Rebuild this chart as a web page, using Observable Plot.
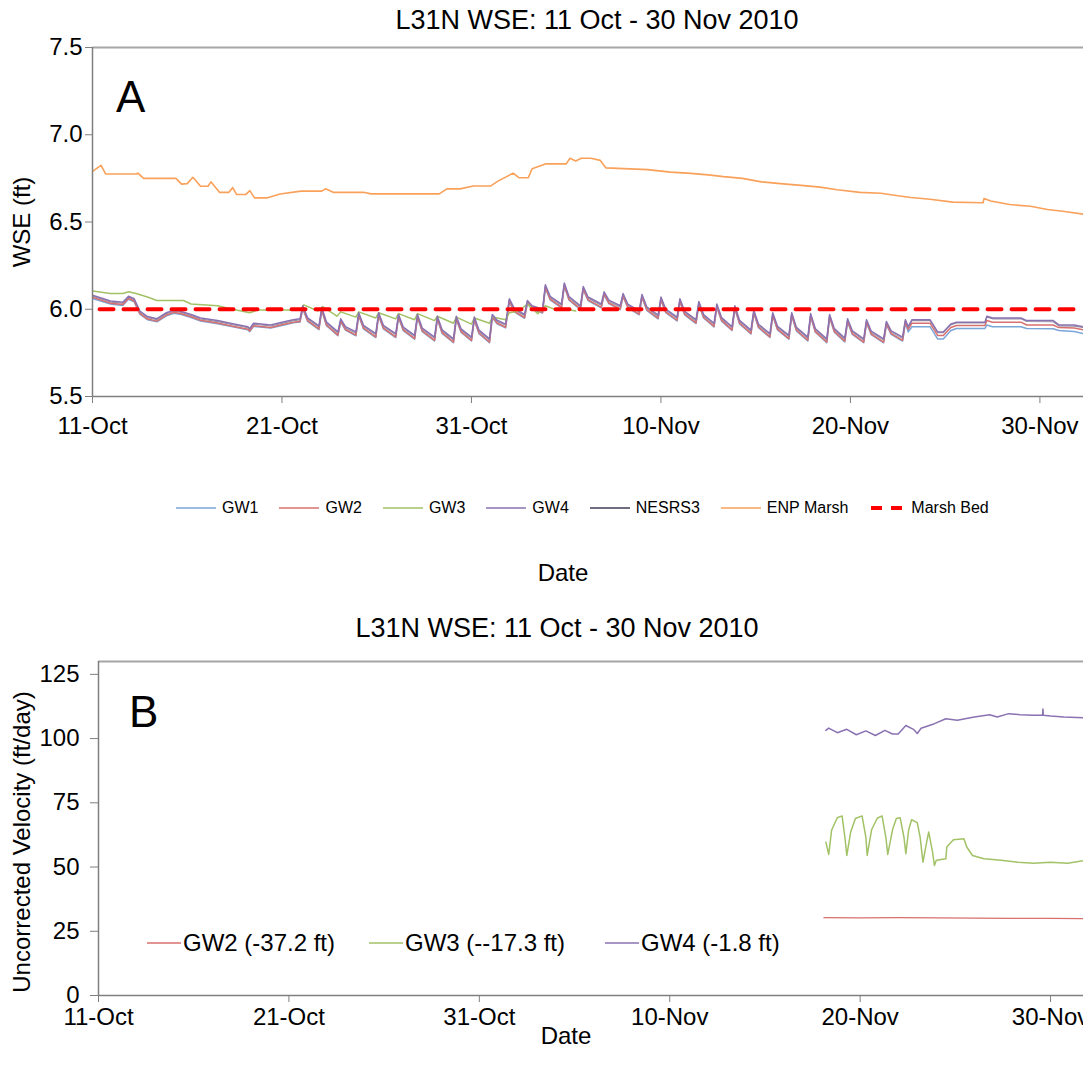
<!DOCTYPE html>
<html><head><meta charset="utf-8">
<script src="https://cdn.jsdelivr.net/npm/d3@7"></script>
<script src="https://cdn.jsdelivr.net/npm/@observablehq/plot@0.6"></script>
<style>
body{margin:0;background:#fff;font-family:"Liberation Sans",Arial,sans-serif;color:#000;}
#wrap{position:relative;width:1083px;height:1068px;overflow:hidden;background:#fff;}
.abs{position:absolute;white-space:nowrap;line-height:1;}
.chart{position:absolute;left:0;}
.sw{display:inline-block;vertical-align:middle;}
</style></head><body><div id="wrap"></div>
<script>
// ---------- DATA (days since 11-Oct-2010 00:00) ----------
const titleText = "L31N WSE: 11 Oct - 30 Nov 2010";
const tickDays = [0, 10, 20, 30, 40, 50];
const yTicksA = [5.5, 6.0, 6.5, 7.0, 7.5];
const yTicksB = [0, 25, 50, 75, 100, 125];

const gwDays = [
  0, 0.95, 1.6, 1.9, 2.2, 2.5, 2.9, 3.4, 3.9, 4.3, 4.6, 5.2, 5.7, 6.6, 7.4, 8.2, 8.3, 8.5, 9.4, 10.0, 10.6, 10.95,
  11.1, 11.95, 12.1, 12.95, 13.1, 13.9, 14.05, 14.95, 15.1, 16.0, 16.15, 17.0, 17.15, 18.05, 18.2, 19.05, 19.2, 20.0, 20.15, 20.95, 21.1,
  21.8, 22.0, 22.8, 22.95, 23.75, 23.9, 24.75, 24.9, 25.75, 25.9, 26.85, 27.0, 27.85, 28.0, 28.85, 29.0, 29.85, 30.0, 30.85, 31.0,
  31.85, 32.0, 32.8, 32.95, 33.75, 33.9, 34.75, 34.9, 35.75, 35.9, 36.75, 36.9, 37.75, 37.9, 38.75, 38.9, 39.7, 39.85, 40.7, 40.85,
  41.75, 41.9, 42.75, 42.9,
  43.05, 43.25, 44.2, 44.6, 44.9, 45.3, 45.6, 47.1, 47.2, 47.5, 49.0, 49.3, 50.7, 51.0, 51.8, 52.5
];
const gw4 = [
  6.080, 6.047, 6.040, 6.075, 6.060, 5.990, 5.958, 5.946, 5.980, 5.995, 5.990, 5.970, 5.950, 5.935, 5.917, 5.900, 5.890, 5.920, 5.910, 5.925, 5.940, 5.945,
  6.020, 5.905, 6.010, 5.870, 5.945, 5.870, 5.980, 5.860, 5.980, 5.860, 5.970, 5.850, 5.970, 5.840, 5.960, 5.830, 5.960, 5.840, 5.955, 5.830, 5.970,
  5.915, 6.060, 5.970, 6.050, 6.000, 6.140, 6.030, 6.150, 6.020, 6.130, 6.030, 6.100, 6.020, 6.090, 5.990, 6.085, 5.967, 6.070, 5.955, 6.060,
  5.940, 6.045, 5.920, 6.030, 5.900, 6.020, 5.880, 5.995, 5.860, 5.980, 5.850, 5.980, 5.840, 5.975, 5.830, 5.970, 5.835, 5.945, 5.830, 5.940,
  5.830, 5.930, 5.840, 5.940,
  5.900, 5.940, 5.940, 5.870, 5.870, 5.915, 5.926, 5.926, 5.960, 5.950, 5.950, 5.935, 5.935, 5.910, 5.910, 5.895
];
const gw2 = [
  6.068, 6.035, 6.027, 6.062, 6.047, 5.976, 5.944, 5.932, 5.967, 5.982, 5.977, 5.957, 5.937, 5.921, 5.903, 5.886, 5.876, 5.905, 5.896, 5.911, 5.926, 5.930,
  6.008, 5.887, 5.998, 5.852, 5.933, 5.852, 5.968, 5.842, 5.968, 5.842, 5.958, 5.832, 5.958, 5.822, 5.948, 5.812, 5.948, 5.822, 5.943, 5.812, 5.958,
  5.897, 6.048, 5.952, 6.038, 5.982, 6.128, 6.012, 6.138, 6.002, 6.118, 6.012, 6.088, 6.002, 6.078, 5.972, 6.073, 5.949, 6.058, 5.937, 6.048,
  5.922, 6.033, 5.902, 6.018, 5.882, 6.008, 5.862, 5.983, 5.842, 5.968, 5.832, 5.968, 5.822, 5.963, 5.812, 5.958, 5.817, 5.933, 5.812, 5.928,
  5.812, 5.918, 5.822, 5.928,
  5.885, 5.920, 5.920, 5.850, 5.850, 5.895, 5.907, 5.907, 5.935, 5.926, 5.926, 5.910, 5.910, 5.895, 5.893, 5.878
];
const gw1 = [
  6.062, 6.030, 6.022, 6.057, 6.042, 5.972, 5.940, 5.928, 5.962, 5.977, 5.972, 5.952, 5.932, 5.917, 5.899, 5.882, 5.872, 5.902, 5.892, 5.907, 5.922, 5.927,
  6.002, 5.883, 5.992, 5.848, 5.927, 5.848, 5.962, 5.838, 5.962, 5.838, 5.952, 5.828, 5.952, 5.818, 5.942, 5.808, 5.942, 5.818, 5.937, 5.808, 5.952,
  5.893, 6.042, 5.948, 6.032, 5.978, 6.122, 6.008, 6.132, 5.998, 6.112, 6.008, 6.082, 5.998, 6.072, 5.968, 6.067, 5.945, 6.052, 5.933, 6.042,
  5.918, 6.027, 5.898, 6.012, 5.878, 6.002, 5.858, 5.977, 5.838, 5.962, 5.828, 5.962, 5.818, 5.957, 5.808, 5.952, 5.813, 5.927, 5.808, 5.922,
  5.808, 5.912, 5.818, 5.922,
  5.870, 5.900, 5.900, 5.830, 5.830, 5.878, 5.890, 5.890, 5.910, 5.900, 5.900, 5.890, 5.888, 5.878, 5.872, 5.855
];
const nesrs3 = [
  6.074, 6.041, 6.034, 6.069, 6.054, 5.984, 5.952, 5.940, 5.974, 5.989, 5.984, 5.964, 5.944, 5.929, 5.911, 5.894, 5.884, 5.914, 5.904, 5.919, 5.934, 5.939,
  6.013, 5.898, 6.003, 5.863, 5.938, 5.863, 5.973, 5.853, 5.973, 5.853, 5.963, 5.843, 5.963, 5.833, 5.953, 5.823, 5.953, 5.833, 5.948, 5.823, 5.963,
  5.908, 6.053, 5.963, 6.043, 5.993, 6.133, 6.023, 6.143, 6.013, 6.123, 6.023, 6.093, 6.013, 6.083, 5.983, 6.078, 5.960, 6.063, 5.948, 6.053,
  5.933, 6.038, 5.913, 6.023, 5.893, 6.013, 5.873, 5.988, 5.853, 5.973, 5.843, 5.973, 5.833, 5.968, 5.823, 5.963, 5.828, 5.938, 5.823, 5.933,
  5.823, 5.923, 5.833, 5.933,
  5.895, 5.935, 5.935, 5.865, 5.865, 5.910, 5.921, 5.921, 5.955, 5.945, 5.945, 5.930, 5.928, 5.905, 5.903, 5.893
];
// readings on the fast-decay part of each pumping cycle (shortly after each peak)
const gwMidDays = [11.35, 12.35, 13.35, 14.3, 15.35, 16.4, 17.4, 18.45, 19.45, 20.4, 21.35, 22.25, 23.2, 24.15, 25.15, 26.15, 27.25, 28.25, 29.25, 30.25, 31.25, 32.25, 33.2, 34.15, 35.15, 36.15, 37.15, 38.15, 39.15, 40.1, 41.1, 42.15];
const gw4Mid = [5.951, 5.926, 5.900, 5.908, 5.908, 5.898, 5.892, 5.882, 5.888, 5.880, 5.937, 6.006, 6.020, 6.074, 6.072, 6.070, 6.052, 6.030, 6.014, 6.001, 5.988, 5.970, 5.952, 5.936, 5.914, 5.902, 5.896, 5.888, 5.889, 5.876, 5.874, 5.876];
const gw2Mid = [5.935, 5.910, 5.884, 5.892, 5.892, 5.882, 5.876, 5.866, 5.872, 5.864, 5.921, 5.990, 6.004, 6.058, 6.056, 6.054, 6.036, 6.014, 5.998, 5.985, 5.972, 5.954, 5.936, 5.920, 5.898, 5.886, 5.880, 5.872, 5.873, 5.860, 5.858, 5.860];
const gw1Mid = [5.931, 5.906, 5.880, 5.888, 5.888, 5.878, 5.872, 5.862, 5.868, 5.860, 5.917, 5.986, 6.000, 6.054, 6.052, 6.050, 6.032, 6.010, 5.994, 5.981, 5.968, 5.950, 5.932, 5.916, 5.894, 5.882, 5.876, 5.868, 5.869, 5.856, 5.854, 5.856];
const nesrs3Mid = [5.944, 5.919, 5.893, 5.901, 5.901, 5.891, 5.885, 5.875, 5.881, 5.873, 5.930, 5.999, 6.013, 6.067, 6.065, 6.063, 6.045, 6.023, 6.007, 5.994, 5.981, 5.963, 5.945, 5.929, 5.907, 5.895, 5.889, 5.881, 5.882, 5.869, 5.867, 5.869];

const gw3Days = [0, 0.95, 1.6, 1.9, 2.3, 2.9, 3.4, 4.8, 5.2, 6.6, 7.4, 8.3, 8.7, 10.5, 11.0, 11.15, 11.9, 12.15, 12.9, 13.1, 13.9, 14.05, 14.95, 15.1, 16.0, 16.15, 17.0, 17.15, 18.05, 18.2, 19.05, 19.2, 20.0, 20.15, 20.95, 21.1, 21.8, 22.0, 22.5, 22.95, 23.5, 23.9, 24.5, 25.0, 25.5];
const gw3 = [6.105, 6.09, 6.09, 6.10, 6.09, 6.07, 6.05, 6.05, 6.03, 6.02, 6.0, 5.98, 5.995, 5.995, 6.0, 6.025, 5.99, 6.015, 5.96, 5.985, 5.955, 5.985, 5.95, 5.98, 5.945, 5.975, 5.94, 5.975, 5.935, 5.96, 5.92, 5.955, 5.915, 5.95, 5.92, 5.955, 5.94, 5.98, 5.99, 6.03, 5.975, 6.02, 5.995, 6.0, 5.99];
const enpDays = [0, 0.45, 0.7, 2.3, 2.4, 2.7, 4.4, 4.7, 5.0, 5.3, 5.7, 6.1, 6.25, 6.7, 7.2, 7.4, 7.6, 8.1, 8.3, 8.55, 9.2, 9.9, 11.0, 12.1, 12.3, 12.7, 14.3, 14.7, 18.3, 18.7, 19.4, 20.1, 21.0, 21.4, 22.2, 22.5, 23.0, 23.2, 23.9, 25.0, 25.2, 25.5, 25.8, 26.3, 26.8, 27.1, 29.3, 30.5, 31.4, 32.5, 33.3, 34.3, 35.3, 36.3, 37.4, 38.4, 39.3, 40.5, 41.6, 42.5, 43.2, 44.2, 45.4, 47.0, 47.05, 47.4, 48.4, 49.5, 50.4, 51.3, 52.3];
const enpMarsh = [6.79, 6.825, 6.775, 6.775, 6.78, 6.75, 6.75, 6.717, 6.72, 6.756, 6.705, 6.705, 6.73, 6.67, 6.67, 6.697, 6.658, 6.658, 6.68, 6.638, 6.638, 6.66, 6.677, 6.677, 6.69, 6.67, 6.67, 6.661, 6.661, 6.69, 6.69, 6.706, 6.706, 6.734, 6.78, 6.754, 6.754, 6.805, 6.833, 6.833, 6.865, 6.85, 6.865, 6.865, 6.853, 6.81, 6.80, 6.786, 6.78, 6.77, 6.76, 6.75, 6.73, 6.72, 6.71, 6.70, 6.685, 6.67, 6.665, 6.65, 6.64, 6.63, 6.614, 6.61, 6.635, 6.62, 6.60, 6.59, 6.572, 6.56, 6.545];
const bedDays = [0.37, 52.3];
const marshBed = [6.0, 6.0];

// Panel B: uncorrected velocity (ft/day)
const velGw2Days = [38.1, 40.0, 42.0, 44.0, 46.0, 48.0, 50.0, 51.8];
const velGw2 = [30.3, 30.2, 30.3, 30.2, 30.1, 30.0, 30.0, 29.9];
const velGw3Days = [38.2, 38.35, 38.5, 38.8, 39.05, 39.2, 39.3, 39.5, 39.75, 40.1, 40.3, 40.37, 40.6, 40.9, 41.15, 41.35, 41.45, 41.7, 41.9, 42.1, 42.3, 42.4, 42.55, 42.7, 43.0, 43.15, 43.3, 43.5, 43.6, 43.8, 43.9, 44.0, 44.5, 44.55, 44.9, 45.45, 45.6, 45.9, 46.5, 47.4, 48.3, 49.1, 50.0, 50.9, 51.8];
const velGw3 = [59.7, 54.9, 64.3, 69.2, 69.9, 61.6, 54.5, 63.5, 68.9, 69.9, 61.6, 54.5, 64.5, 69.0, 69.9, 61.6, 54.9, 64.5, 68.9, 69.2, 61.6, 55.2, 64.5, 68.4, 67.3, 61.6, 51.9, 60.0, 63.6, 56.0, 50.6, 52.6, 53.2, 57.8, 60.6, 61.0, 57.8, 54.5, 53.2, 52.6, 51.9, 51.5, 51.9, 51.5, 52.6];
const velGw4Days = [38.2, 38.35, 38.8, 39.3, 39.8, 40.3, 40.8, 41.3, 41.7, 42.0, 42.4, 42.8, 43.0, 43.2, 43.9, 44.5, 45.1, 46.0, 46.8, 47.2, 47.8, 48.4, 49.1, 49.58, 49.6, 49.62, 50.0, 50.7, 51.8];
const velGw4 = [103.2, 104.1, 102.3, 103.6, 101.5, 103.0, 101.2, 103.2, 101.8, 101.8, 105.1, 103.6, 102.0, 104.0, 105.8, 107.7, 107.1, 108.4, 109.3, 108.4, 109.7, 109.3, 109.1, 109.1, 111.5, 109.1, 108.8, 108.4, 108.1];

const legendA = ["GW1", "GW2", "GW3", "GW4", "NESRS3", "ENP Marsh", "Marsh Bed"];
const legendB = ["GW2 (-37.2 ft)", "GW3 (--17.3 ft)", "GW4 (-1.8 ft)"];

// ---------- STYLE ----------
const C = {GW1: "#7aa5d8", GW2: "#d7706e", GW3: "#a2c266", GW4: "#8a72b2", NESRS3: "#3d3d55", ENP: "#f9a15a", BED: "#ff0000"};
const FONT = '"Liberation Sans", Arial, sans-serif';
const DAY = 864e5, T0 = Date.UTC(2010, 9, 11);
const dt = d => new Date(T0 + d * DAY);
const rows = (days, vals) => days.map((d, i) => ({date: dt(d), v: vals[i]}));
const rowsMerged = (days, vals, mDays, mVals) => rows(days, vals).concat(rows(mDays, mVals)).sort((a, b) => a.date - b.date);
const fmtDate = d3.utcFormat("%-d-%b");
const tickDates = tickDays.map(dt);
const wrap = document.getElementById("wrap");

function addDiv(html, css) {
  const el = document.createElement("div");
  el.className = "abs";
  el.innerHTML = html;
  Object.assign(el.style, css);
  wrap.appendChild(el);
  return el;
}
const lineOpts = (stroke, w = 1.5, extra = {}) => ({x: "date", y: "v", stroke, strokeWidth: w, clip: true, ...extra});

// ---------- PANEL A ----------
const chartA = Plot.plot({
  width: 1083, height: 450, marginTop: 47, marginBottom: 54, marginLeft: 92, marginRight: 0,
  style: {fontFamily: FONT, fontSize: "24px", color: "#000", background: "transparent", overflow: "visible"},
  x: {type: "utc", domain: [dt(0), dt(52.3)]},
  y: {domain: [5.5, 7.5]},
  marks: [
    Plot.ruleY([7.5], {stroke: "#a6a6a6", strokeWidth: 2}),
    Plot.line(rowsMerged(gwDays, nesrs3, gwMidDays, nesrs3Mid), lineOpts(C.NESRS3, 1.1, {strokeOpacity: 0.55})),
    Plot.line(rowsMerged(gwDays, gw1, gwMidDays, gw1Mid), lineOpts(C.GW1)),
    Plot.line(rowsMerged(gwDays, gw2, gwMidDays, gw2Mid), lineOpts(C.GW2)),
    Plot.line(rows(gw3Days, gw3), lineOpts(C.GW3)),
    Plot.line(rowsMerged(gwDays, gw4, gwMidDays, gw4Mid), lineOpts(C.GW4)),
    Plot.line(rows(enpDays, enpMarsh), lineOpts(C.ENP, 1.6)),
    Plot.line(rows(bedDays, marshBed), lineOpts(C.BED, 4, {strokeDasharray: "14 10"})),
    Plot.ruleX([dt(0)], {stroke: "#7f7f7f", strokeWidth: 1.5}),
    Plot.ruleY([5.5], {stroke: "#7f7f7f", strokeWidth: 1.5}),
    Plot.axisX({ticks: tickDates, tickFormat: fmtDate, tickSize: 7, tickPadding: 13, label: null, stroke: "#7f7f7f", fontSize: 24}),
    Plot.axisY({ticks: yTicksA, tickFormat: d3.format(".1f"), tickSize: 7, tickPadding: 3, label: null, stroke: "#7f7f7f", fontSize: 24})
  ]
});
chartA.classList.add("chart");
chartA.style.top = "0px";
wrap.appendChild(chartA);

// ---------- PANEL B ----------
const chartB = Plot.plot({
  width: 1083, height: 430, marginTop: 61, marginBottom: 35, marginLeft: 98, marginRight: 0,
  style: {fontFamily: FONT, fontSize: "24px", color: "#000", background: "transparent", overflow: "visible"},
  x: {type: "utc", domain: [dt(0), dt(51.73)]},
  y: {domain: [0, 130]},
  marks: [
    Plot.ruleY([130], {stroke: "#a6a6a6", strokeWidth: 2}),
    Plot.line(rows(velGw2Days, velGw2), lineOpts(C.GW2, 1.4)),
    Plot.line(rows(velGw3Days, velGw3), lineOpts(C.GW3, 1.5)),
    Plot.line(rows(velGw4Days, velGw4), lineOpts(C.GW4, 1.5)),
    Plot.ruleX([dt(0)], {stroke: "#7f7f7f", strokeWidth: 1.5}),
    Plot.ruleY([0], {stroke: "#7f7f7f", strokeWidth: 1.5}),
    Plot.axisX({ticks: tickDates, tickFormat: fmtDate, tickSize: 7, tickPadding: 5, label: null, stroke: "#7f7f7f", fontSize: 24}),
    Plot.axisY({ticks: yTicksB, tickSize: 8, tickPadding: 11, label: null, stroke: "#7f7f7f", fontSize: 24})
  ]
});
chartB.classList.add("chart");
chartB.style.top = "600px";
wrap.appendChild(chartB);

// ---------- TEXT ----------
addDiv(titleText, {left: "597px", top: "7px", fontSize: "27px", transform: "translateX(-50%)"});
addDiv(titleText, {left: "557px", top: "615px", fontSize: "27px", transform: "translateX(-50%)"});
addDiv("A", {left: "116px", top: "75px", fontSize: "44px"});
addDiv("B", {left: "129px", top: "690px", fontSize: "44px"});
addDiv("WSE (ft)", {left: "22px", top: "222px", fontSize: "24px", transform: "translate(-50%,-50%) rotate(-90deg)"});
addDiv("Uncorrected Velocity (ft/day)", {left: "22px", top: "842px", fontSize: "24px", transform: "translate(-50%,-50%) rotate(-90deg)"});
addDiv("Date", {left: "563px", top: "561px", fontSize: "24px", transform: "translateX(-50%)"});
addDiv("Date", {left: "566px", top: "1024px", fontSize: "24px", transform: "translateX(-50%)"});

// Legend A (below panel A)
const legColorsA = [C.GW1, C.GW2, C.GW3, C.GW4, C.NESRS3, C.ENP, C.BED];
const legA = addDiv("", {left: "176px", top: "500px", fontSize: "16px", display: "flex", alignItems: "center", gap: "21px", height: "16px"});
legendA.forEach((name, i) => {
  const item = document.createElement("span");
  item.style.display = "inline-flex";
  item.style.alignItems = "center";
  item.style.gap = "6px";
  const sw = name === "Marsh Bed"
    ? `<svg class="sw" width="36" height="6"><line x1="2" y1="3" x2="36" y2="3" stroke="${legColorsA[i]}" stroke-width="4" stroke-dasharray="11 9"/></svg>`
    : `<svg class="sw" width="40" height="4"><line x1="0" y1="2" x2="40" y2="2" stroke="${legColorsA[i]}" stroke-width="1.6"/></svg>`;
  item.innerHTML = sw + `<span>${name}</span>`;
  legA.appendChild(item);
});

// Legend B (inside panel B)
const legColorsB = [C.GW2, C.GW3, C.GW4];
const legLeftB = [147, 369, 605];
legendB.forEach((name, i) => {
  addDiv(`<svg class="sw" width="34" height="4"><line x1="0" y1="2" x2="34" y2="2" stroke="${legColorsB[i]}" stroke-width="1.6"/></svg><span style="vertical-align:middle;margin-left:2px">${name}</span>`,
    {left: legLeftB[i] + "px", top: "929px", fontSize: "24px"});
});
</script>
</body></html>
